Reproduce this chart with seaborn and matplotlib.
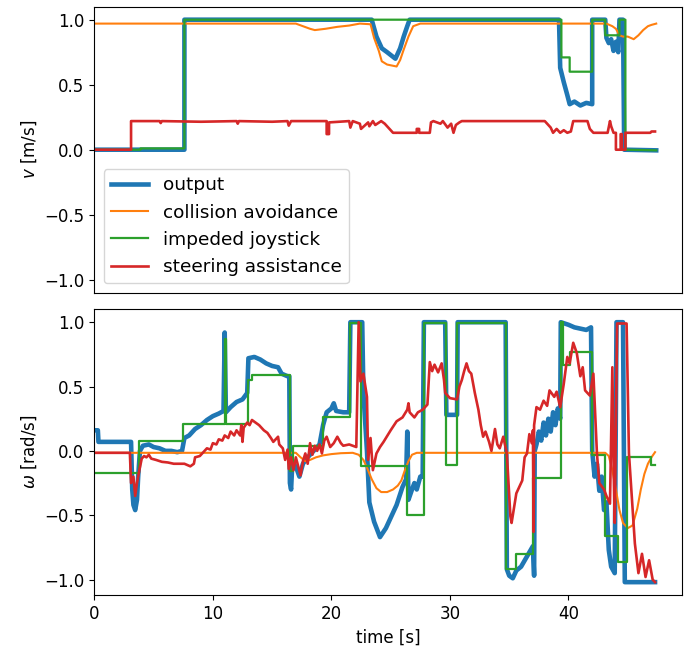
import matplotlib
matplotlib.use("Agg")
import matplotlib.pyplot as plt
import seaborn as sns
import pandas as pd

# ---------------- top panel: v [m/s] ----------------
out_v_t = [0, 7.6, 7.6, 23.4, 23.8, 24.25, 24.7, 25.4, 25.8, 26.1, 26.4, 26.6, 39.2, 39.3, 39.6, 39.9, 40.1,
           40.5, 41.0, 41.5, 42.0, 42.0, 43.1, 43.2, 43.4, 43.6, 43.8, 44.0, 44.2, 44.3, 44.6, 44.7, 47.4]
out_v = [0, 0, 1.0, 1.0, 0.87, 0.78, 0.75, 0.70, 0.78, 0.87, 0.95, 1.0, 1.0, 0.63, 0.52, 0.42, 0.35,
         0.37, 0.34, 0.36, 0.35, 1.0, 1.0, 0.86, 0.82, 0.85, 0.76, 0.83, 0.75, 1.0, 1.0, 0.0, -0.005]

col_v_t = [0, 17.0, 17.6, 18.2, 18.6, 19.5, 20.5, 21.5, 22.4, 23.3, 23.6, 24.0, 24.25, 24.7, 25.5, 25.8,
           26.1, 26.5, 26.9, 27.5, 43.2, 43.7, 44.0, 44.3, 44.6, 45.0, 45.5, 45.9, 46.3, 46.7, 47.0, 47.4]
col_v = [0.97, 0.97, 0.95, 0.93, 0.92, 0.93, 0.945, 0.955, 0.97, 0.965, 0.86, 0.76, 0.68, 0.655, 0.64, 0.69,
         0.77, 0.87, 0.95, 0.97, 0.97, 0.95, 0.93, 0.88, 0.87, 0.87, 0.85, 0.88, 0.92, 0.95, 0.96, 0.97]

joy_v_t = [0, 3.9, 3.9, 7.6, 7.6, 39.4, 39.4, 40.1, 40.1, 42.0, 42.0, 43.1, 43.1, 44.3, 44.3, 44.8, 44.8, 47.4]
joy_v = [0, 0, 0.01, 0.01, 1.0, 1.0, 0.71, 0.71, 0.60, 0.60, 1.0, 1.0, 0.88, 0.88, 1.0, 1.0, 0.0, -0.005]

ste_v_t = [0, 3.1, 3.1, 5.5, 5.6, 5.7, 9.0, 12.0, 12.1, 12.2, 15.0, 16.3, 16.4, 16.6, 19.6, 19.6, 19.8, 19.8,
           21.5, 21.6, 21.8, 22.4, 22.5, 23.1, 23.2, 23.5, 23.7, 24.2, 24.5, 24.8, 25.0, 25.2, 27.2, 27.2, 27.4,
           27.4, 28.3, 28.4, 28.6, 29.2, 29.4, 29.8, 30.1, 30.3, 30.5, 30.8, 31.0, 38.0, 38.3, 38.5, 38.7, 39.0,
           39.3, 39.6, 39.9, 40.2, 40.4, 41.6, 41.8, 42.1, 43.3, 43.5, 43.6, 43.8, 44.0, 44.0, 44.4, 44.4, 44.5,
           44.5, 44.8, 44.8, 46.9, 47.0, 47.3]
ste_v = [0, 0, 0.22, 0.22, 0.205, 0.22, 0.215, 0.22, 0.20, 0.22, 0.215, 0.22, 0.185, 0.22, 0.22, 0.12, 0.12, 0.21,
         0.22, 0.17, 0.22, 0.20, 0.16, 0.21, 0.18, 0.22, 0.19, 0.22, 0.20, 0.17, 0.15, 0.13, 0.13, 0.16, 0.16,
         0.13, 0.13, 0.21, 0.22, 0.20, 0.22, 0.17, 0.20, 0.13, 0.19, 0.21, 0.22, 0.22, 0.19, 0.17, 0.13, 0.16,
         0.13, 0.15, 0.13, 0.14, 0.22, 0.22, 0.16, 0.13, 0.13, 0.22, 0.18, 0.13, 0.13, 0.0, 0.0, 0.12, 0.12,
         0.0, 0.0, 0.13, 0.13, 0.14, 0.14]

# ---------------- bottom panel: omega [rad/s] ----------------
out_w_t = [0, 0.3, 0.35, 3.1, 3.2, 3.3, 3.45, 3.6, 3.7, 3.85, 4.1, 4.6, 5.0, 5.5, 6.0, 6.5, 7.0, 7.4, 7.6, 8.0,
           8.5, 9.0, 9.5, 10.0, 10.5, 10.9, 11.0, 11.1, 11.5, 12.0, 12.5, 12.9, 13.0, 13.5, 14.0, 14.5, 15.0,
           15.5, 15.8, 16.3, 16.45, 16.5, 16.6, 16.7, 17.0, 17.3, 17.6, 18.0, 18.5, 19.0, 19.3, 19.6, 20.0, 20.2,
           20.4, 21.0, 21.5, 21.6, 22.6, 22.7, 23.0, 23.2, 23.6, 24.1, 24.6, 25.0, 25.5, 26.0, 26.3, 26.4, 26.5,
           26.8, 27.0, 27.2, 27.5, 27.7, 27.8, 29.6, 29.7, 30.6, 30.65, 34.7, 34.8, 35.0, 35.3, 35.6, 36.0, 36.5,
           37.0, 37.1, 37.15, 37.3, 37.5, 37.7, 37.9, 38.1, 38.3, 38.5, 38.7, 38.9, 39.1, 39.3, 39.35, 40.0, 40.5,
           41.0, 41.5, 41.9, 42.0, 42.2, 42.4, 42.6, 42.8, 43.0, 43.2, 43.4, 43.6, 43.9, 44.05, 44.6, 44.75, 47.3]
out_w = [0.16, 0.16, 0.07, 0.07, -0.30, -0.42, -0.46, -0.38, -0.20, 0.0, 0.04, 0.05, 0.03, 0.02, 0.0, 0.0, -0.01,
         0.0, 0.10, 0.12, 0.17, 0.20, 0.24, 0.27, 0.29, 0.31, 0.92, 0.30, 0.34, 0.38, 0.40, 0.45, 0.72, 0.73,
         0.71, 0.68, 0.66, 0.65, 0.60, 0.58, 0.58, -0.25, -0.30, -0.10, -0.12, -0.20, -0.10, -0.05, 0.0, 0.05,
         0.20, 0.30, 0.33, 0.37, 0.31, 0.30, 0.30, 1.0, 1.0, 0.45, 0.0, -0.40, -0.55, -0.67, -0.60, -0.52, -0.42,
         -0.28, -0.22, 0.15, -0.38, -0.30, -0.25, -0.30, -0.20, -0.20, 1.0, 1.0, 0.28, 0.28, 1.0, 1.0, -0.92,
         -0.97, -0.99, -0.93, -0.90, -0.82, -0.74, -0.97, 0.0, 0.05, 0.15, 0.08, 0.22, 0.12, 0.25, 0.15, 0.30,
         0.20, 0.33, 0.25, 1.0, 0.98, 0.96, 0.95, 0.94, 0.96, 0.0, -0.20, -0.10, -0.31, -0.20, -0.46, -0.40,
         -0.77, -0.90, -0.95, 1.0, 1.0, -1.02, -1.02]

col_w_t = [0, 17.0, 17.4, 17.8, 18.2, 18.7, 19.3, 20.0, 20.8, 21.8, 22.3, 22.7, 23.0, 23.4, 23.8, 24.2, 24.7, 25.2,
           25.6, 25.9, 26.2, 26.5, 26.8, 27.2, 43.1, 43.4, 43.7, 44.0, 44.3, 44.6, 45.0, 45.4, 45.8, 46.1, 46.4,
           46.7, 47.0, 47.3]
col_w = [-0.015, -0.015, -0.05, -0.08, -0.07, -0.05, -0.035, -0.025, -0.018, -0.015, -0.03, -0.07, -0.13, -0.22,
         -0.29, -0.32, -0.32, -0.30, -0.27, -0.23, -0.15, -0.08, -0.03, -0.015, -0.015, -0.04, -0.15, -0.30, -0.46,
         -0.56, -0.60, -0.58, -0.45, -0.30, -0.18, -0.10, -0.05, -0.01]

joy_w_t = [0, 3.8, 3.8, 7.5, 7.5, 11.0, 11.0, 11.1, 11.1, 13.0, 13.0, 13.3, 13.3, 16.5, 16.5, 16.8, 16.8, 19.3,
           19.3, 21.6, 21.6, 22.5, 22.5, 26.4, 26.4, 27.8, 27.8, 29.7, 29.7, 30.6, 30.6, 34.7, 34.7, 35.6, 35.6,
           37.0, 37.0, 39.4, 39.4, 39.5, 39.5, 40.1, 40.1, 42.0, 42.0, 43.1, 43.1, 44.2, 44.2, 44.9, 44.9, 47.0,
           47.0, 47.3]
joy_w = [-0.17, -0.17, 0.08, 0.08, 0.21, 0.21, 0.87, 0.87, 0.21, 0.21, 0.55, 0.55, 0.59, 0.59, -0.16, -0.16, 0.04,
         0.04, 0.26, 0.26, 0.99, 0.99, -0.12, -0.12, -0.50, -0.50, 0.99, 0.99, -0.11, -0.11, 0.99, 0.99, -0.92,
         -0.92, -0.80, -0.80, -0.21, -0.21, 1.0, 1.0, 0.67, 0.67, 0.77, 0.77, -0.03, -0.03, -0.66, -0.66, -0.86,
         -0.86, -0.05, -0.05, -0.11, -0.11]

ste_w_t = [0, 3.0, 3.1, 3.3, 3.45, 3.6, 3.8, 4.0, 4.2, 4.4, 4.6, 4.8, 5.2, 5.7, 6.2, 6.7, 7.2, 7.6, 8.1, 8.4, 8.5,
           8.9, 9.2, 9.5, 9.8, 10.0, 10.3, 10.5, 10.8, 11.0, 11.3, 11.5, 11.8, 12.0, 12.3, 12.4, 12.5, 12.6, 12.9,
           13.1, 13.3, 13.6, 13.9, 14.3, 14.6, 14.9, 15.1, 15.3, 15.5, 15.6, 15.9, 16.1, 16.3, 16.4, 16.6, 16.8,
           17.0, 17.2, 17.4, 17.6, 17.8, 18.0, 18.2, 18.4, 18.6, 18.8, 19.0, 19.2, 19.4, 19.6, 19.9, 20.2, 20.5,
           20.8, 21.0, 21.5, 22.1, 22.3, 22.45, 22.7, 23.0, 23.1, 23.3, 23.5, 23.8, 24.1, 24.4, 24.8, 25.0, 25.5,
           26.0, 26.4, 26.5, 26.6, 27.0, 27.3, 27.7, 28.1, 28.3, 28.5, 28.7, 29.0, 29.3, 29.5, 29.6, 30.0, 30.6,
           30.8, 31.0, 31.2, 31.4, 31.6, 31.8, 32.1, 32.4, 32.6, 32.8, 33.0, 33.3, 33.5, 33.8, 34.0, 34.2, 34.5,
           34.8, 35.1, 35.2, 35.6, 36.1, 36.3, 36.5, 36.7, 36.9, 37.0, 37.05, 37.1, 37.3, 37.6, 37.9, 38.2, 38.4,
           38.8, 39.0, 39.3, 39.6, 39.9, 40.1, 40.4, 40.7, 41.0, 41.2, 41.4, 41.8, 42.1, 42.4, 42.6, 43.0, 43.2,
           43.5, 43.7, 43.8, 43.9, 44.1, 44.9, 45.1, 45.3, 45.6, 45.9, 46.2, 46.5, 46.8, 47.1, 47.3]
ste_w = [-0.015, -0.015, -0.25, -0.20, -0.35, -0.25, -0.15, -0.06, -0.04, -0.05, -0.03, -0.06, -0.07, -0.085,
         -0.09, -0.10, -0.10, -0.10, -0.12, -0.10, -0.05, -0.04, -0.01, 0.02, 0.01, 0.06, 0.05, 0.09, 0.08, 0.12,
         0.10, 0.15, 0.12, 0.16, 0.12, 0.20, 0.07, 0.18, 0.22, 0.20, 0.24, 0.22, 0.20, 0.16, 0.14, 0.10, 0.07,
         0.09, 0.11, 0.05, 0.02, -0.07, 0.01, -0.14, -0.05, -0.15, -0.05, -0.12, -0.19, -0.08, -0.02, -0.10, 0.06,
         -0.03, 0.04, 0.0, 0.05, -0.02, 0.08, 0.11, 0.03, 0.06, 0.11, 0.06, 0.04, 0.05, 0.03, 1.0, 0.54, 0.60,
         0.42, -0.07, 0.10, -0.15, -0.02, 0.03, 0.07, 0.13, 0.16, 0.23, 0.26, 0.32, 0.37, 0.30, 0.26, 0.30, 0.32,
         0.36, 0.69, 0.62, 0.67, 0.61, 0.68, 0.55, 0.45, 0.41, 0.40, 0.50, 0.55, 0.62, 0.68, 0.62, 0.60, 0.45,
         0.32, 0.20, 0.11, 0.15, 0.07, 0.0, 0.17, 0.05, 0.02, 0.11, -0.02, -0.51, -0.56, -0.33, -0.23, -0.05,
         -0.02, 0.13, 0.06, 0.16, -0.63, 0.20, 0.34, 0.32, 0.39, 0.35, 0.47, 0.42, 0.46, 0.34, 0.52, 0.73, 0.68,
         0.84, 0.76, 0.58, 0.65, 0.47, 0.43, 0.60, -0.02, -0.25, -0.30, -0.35, -0.41, 0.65, -0.10, -0.56, 0.99,
         0.99, -0.02, -0.30, -0.72, -0.95, -0.80, -0.98, -0.85, -1.00, -1.02]

labels = ["output", "collision avoidance", "impeded joystick", "steering assistance"]
colors = ["#1f77b4", "#ff7f0e", "#2ca02c", "#d62728"]
widths = [3.3, 1.5, 1.6, 1.9]

fig = plt.figure(figsize=(6.97, 6.5), dpi=100)
ax1 = fig.add_axes([0.1353, 0.5497, 0.8436, 0.4400])
ax2 = fig.add_axes([0.1353, 0.0846, 0.8436, 0.4395], sharex=ax1)

top = [(out_v_t, out_v), (col_v_t, col_v), (joy_v_t, joy_v), (ste_v_t, ste_v)]
bot = [(out_w_t, out_w), (col_w_t, col_w), (joy_w_t, joy_w), (ste_w_t, ste_w)]

for ax, series in ((ax1, top), (ax2, bot)):
    for (t, y), lab, c, lw in zip(series, labels, colors, widths):
        df = pd.DataFrame({"t": t, "y": y})
        sns.lineplot(data=df, x="t", y="y", ax=ax, sort=False, estimator=None,
                     color=c, linewidth=lw, label=lab if ax is ax1 else None)

for ax in (ax1, ax2):
    ax.set_xlim(0, 49.6)
    ax.set_yticks([-1.0, -0.5, 0.0, 0.5, 1.0])
    ax.tick_params(labelsize=12)
ax1.set_ylim(-1.1, 1.1)
ax2.set_ylim(-1.12, 1.10)
ax2.set_xticks([0, 10, 20, 30, 40])
ax1.tick_params(axis="x", bottom=False, labelbottom=False)
ax1.set_xlabel("")
ax1.set_ylabel("$v$ [m/s]", fontsize=12)
ax2.set_ylabel("$\\omega$ [rad/s]", fontsize=12)
ax2.set_xlabel("time [s]", fontsize=12)
leg = ax1.legend(loc="lower left", fontsize=13.3)
if ax2.get_legend() is not None:
    ax2.get_legend().remove()

fig.savefig("out.png", dpi=100)
